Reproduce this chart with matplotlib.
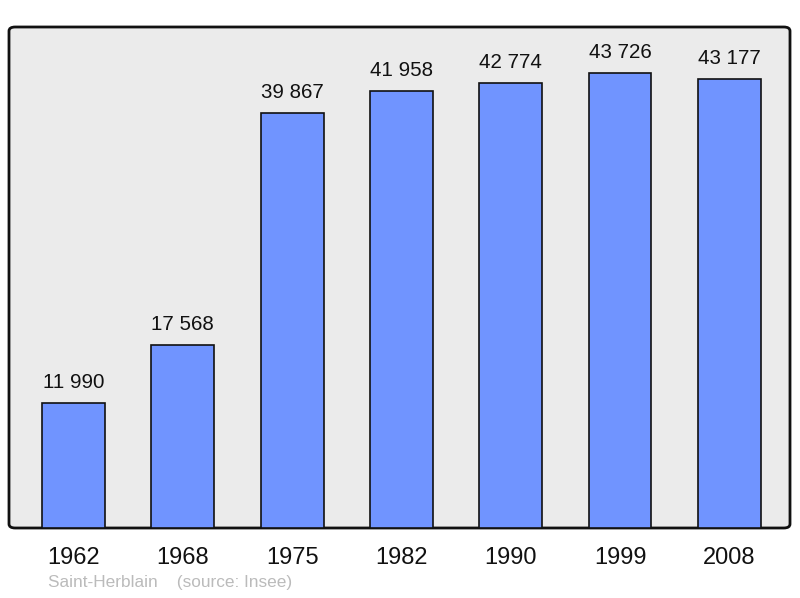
import matplotlib.pyplot as plt
from matplotlib.patches import FancyBboxPatch

# Data
years = ['1962', '1968', '1975', '1982', '1990', '1999', '2008']
population = [11990, 17568, 39867, 41958, 42774, 43726, 43177]
value_labels = ['11 990', '17 568', '39 867', '41 958', '42 774', '43 726', '43 177']

plt.rcParams['font.family'] = ['Liberation Sans', 'DejaVu Sans']

fig = plt.figure(figsize=(8, 5.98), dpi=100)
ax = fig.add_axes([9 / 800, 70 / 598, 781 / 800, 501 / 598])
ax.set_facecolor('none')
for s in ax.spines.values():
    s.set_visible(False)

# rounded background frame
bg = FancyBboxPatch((0, 0), 1, 1, boxstyle='round,pad=0,rounding_size=0.008',
                    transform=ax.transAxes, facecolor='#ebebeb', edgecolor='#111111',
                    linewidth=2, zorder=0, clip_on=False)
ax.add_patch(bg)

x = range(len(years))
ax.bar(x, population, width=0.575, color='#7094ff', edgecolor='#111111',
       linewidth=1.2, zorder=2)

for i, (v, lab) in enumerate(zip(population, value_labels)):
    ax.annotate(lab, (i, v), xytext=(0, 8), textcoords='offset points',
                ha='center', va='bottom', fontsize=14.8, color='#111111')

ax.set_xlim(-0.59, 6.555)
ax.set_ylim(0, 48150)
ax.set_yticks([])
ax.set_xticks(list(x))
ax.set_xticklabels(years, fontsize=17, color='#111111')
ax.tick_params(axis='x', length=0, pad=13.5)

fig.text(48 / 800, 1 - 583 / 598, 'Saint-Herblain    (source: Insee)',
         fontsize=12.4, color='#bbbbbb', va='center', ha='left')

fig.savefig('out.png', dpi=100)
